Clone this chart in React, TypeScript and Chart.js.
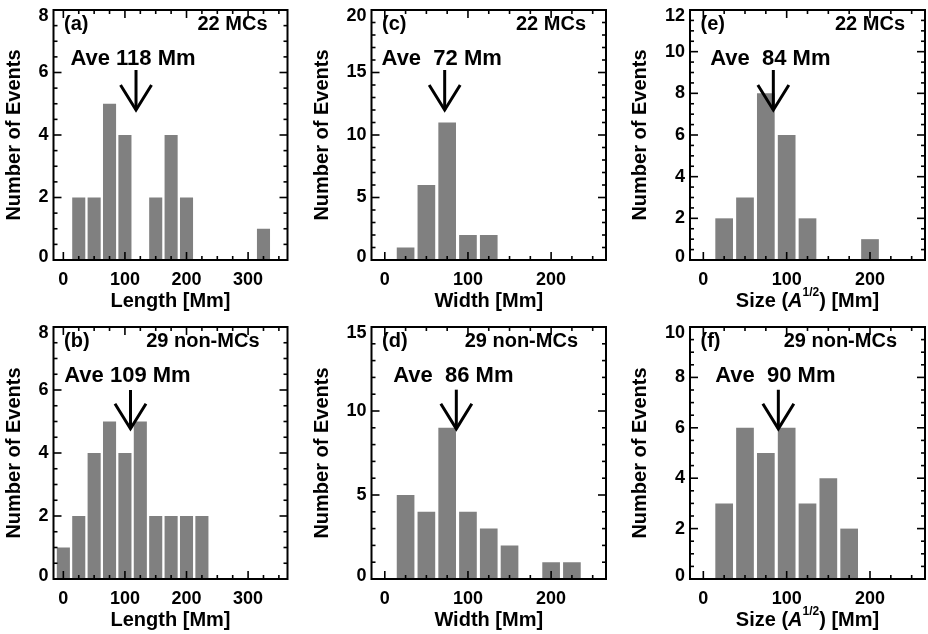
import React, { useEffect, useRef } from 'react';
import { Chart, registerables } from 'chart.js';

Chart.register(...registerables);

const FONT = "'Liberation Sans', Arial, Helvetica, sans-serif";

// ---- data ----
const lengthBins = [0, 25, 50, 75, 100, 125, 150, 175, 200, 225, 250, 275, 300, 325, 350];
const sizeBins = [0, 25, 50, 75, 100, 125, 150, 175, 200, 225, 250];

const lengthMC = [0, 2, 2, 5, 4, 0, 2, 4, 2, 0, 0, 0, 0, 1, 0];
const lengthNonMC = [1, 2, 4, 5, 4, 5, 2, 2, 2, 2, 0, 0, 0, 0, 0];
const widthMC = [0, 1, 6, 11, 2, 2, 0, 0, 0, 0, 0];
const widthNonMC = [0, 5, 4, 9, 4, 3, 2, 0, 1, 1, 0];
const sizeMC = [0, 2, 3, 8, 6, 2, 0, 0, 1, 0, 0];
const sizeNonMC = [0, 3, 6, 5, 6, 3, 4, 2, 0, 0, 0];

// panel order: (a) (b) (c) (d) (e) (f)
const panelLetters = ['(a)', '(b)', '(c)', '(d)', '(e)', '(f)'];
const groupLabels = ['22 MCs', '29 non-MCs', '22 MCs', '29 non-MCs', '22 MCs', '29 non-MCs'];
const aveValues = [118, 109, 72, 86, 84, 90];
const aveLabels = ['Ave 118 Mm', 'Ave 109 Mm', 'Ave  72 Mm', 'Ave  86 Mm', 'Ave  84 Mm', 'Ave  90 Mm'];
const arrowTopY = [6.08, 6.0, 15.2, 11.27, 9.12, 7.51];
const arrowTipY = [4.8, 4.77, 12, 8.94, 7.2, 5.96];
const yMaxes = [8, 8, 20, 15, 12, 10];
const yMajorSteps = [2, 2, 5, 5, 2, 2];
const yMinorSteps = [0.5, 0.5, 1, 1, 0.5, 0.5];
const xMin = -16;
const xMaxes = [364, 364, 266, 266, 266, 266];
const xMajorStep = 100;
const xMinorStep = 25;
const xTitles = ['Length [Mm]', 'Length [Mm]', 'Width [Mm]', 'Width [Mm]', 'SIZE', 'SIZE'];
const yTitle = 'Number of Events';

const panelBins = [lengthBins, lengthBins, sizeBins, sizeBins, sizeBins, sizeBins];
const panelCounts = [lengthMC, lengthNonMC, widthMC, widthNonMC, sizeMC, sizeNonMC];

// ---- layout ----
const COL_CANVAS_LEFT = [0, 306, 624];
const COL_CANVAS_W = [300, 312, 304];
const COL_PLOT_LEFT = [53.5, 371.5, 690];
const COL_PLOT_RIGHT = [287.5, 606, 925];
const COL_TITLE_X = [14.5, 322.5, 640.5];
const ROW_CANVAS_TOP = [0, 316];
const ROW_CANVAS_H = [316, 318];
const ROW_PLOT_TOP = [10, 327];
const ROW_PLOT_BOTTOM = [260, 579];

function ticksBetween(min: number, max: number, step: number) {
  const out: number[] = [];
  const start = Math.ceil(min / step - 1e-9) * step;
  for (let v = start; v <= max + 1e-9; v += step) out.push(Math.round(v * 1000) / 1000);
  return out;
}

const decorPlugin = {
  id: 'decor',
  afterDatasetsDraw(chart: any, _args: any, opts: any) {
    const { ctx, chartArea: ca, scales } = chart;
    const x = scales.x;
    const y = scales.y;
    const i = opts.idx;
    const row = i % 2;
    ctx.save();
    ctx.strokeStyle = '#000';
    ctx.fillStyle = '#000';
    ctx.lineCap = 'butt';

    const line = (x1: number, y1: number, x2: number, y2: number) => {
      ctx.beginPath();
      ctx.moveTo(x1, y1);
      ctx.lineTo(x2, y2);
      ctx.stroke();
    };

    // inward tick marks on all four sides
    ctx.lineWidth = 1.6;
    const MAJ = 8;
    const MIN = 4;
    ticksBetween(x.min, x.max, xMinorStep).forEach((v) => {
      const major = Math.abs(v % xMajorStep) < 1e-6;
      const len = major ? MAJ : MIN;
      const px = x.getPixelForValue(v);
      if (px <= ca.left + 1 || px >= ca.right - 1) return;
      line(px, ca.bottom, px, ca.bottom - len);
      line(px, ca.top, px, ca.top + len);
    });
    ticksBetween(y.min, y.max, yMinorSteps[i]).forEach((v) => {
      const major = Math.abs(v % yMajorSteps[i]) < 1e-6;
      const len = major ? MAJ : MIN;
      const py = y.getPixelForValue(v);
      if (py <= ca.top + 1 || py >= ca.bottom - 1) return;
      line(ca.left, py, ca.left + len, py);
      line(ca.right, py, ca.right - len, py);
    });

    // y tick labels (end labels nudged inside the axis span)
    ctx.font = `bold 18px ${FONT}`;
    ctx.textAlign = 'right';
    ctx.textBaseline = 'middle';
    ticksBetween(0, yMaxes[i], yMajorSteps[i]).forEach((v) => {
      let py = y.getPixelForValue(v);
      if (v === yMaxes[i]) py += 6;
      if (v === 0) py -= 3;
      ctx.fillText(String(v), ca.left - 5, py);
    });

    // frame
    ctx.lineWidth = 2;
    ctx.strokeRect(ca.left, ca.top, ca.right - ca.left, ca.bottom - ca.top);

    // arrow
    const ax = x.getPixelForValue(aveValues[i]);
    const ayTop = y.getPixelForValue(arrowTopY[i]);
    const ayTip = y.getPixelForValue(arrowTipY[i]);
    ctx.lineWidth = 3;
    ctx.lineJoin = 'miter';
    line(ax, ayTop, ax, ayTip);
    ctx.beginPath();
    ctx.moveTo(ax - 15.5, ayTip - 25);
    ctx.lineTo(ax, ayTip);
    ctx.lineTo(ax + 15.5, ayTip - 25);
    ctx.stroke();

    // texts
    ctx.textBaseline = 'middle';
    ctx.font = `bold 22px ${FONT}`;
    ctx.textAlign = 'center';
    ctx.fillText(aveLabels[i], ax - 3, ca.top + 49);

    ctx.font = `bold 20px ${FONT}`;
    ctx.textAlign = 'left';
    ctx.fillText(panelLetters[i], ca.left + 10.5, ca.top + 14);
    ctx.textAlign = 'right';
    ctx.fillText(groupLabels[i], ca.right - (row === 0 ? 20 : 28), ca.top + 14);

    // custom x title with superscript for size panels
    if (xTitles[i] === 'SIZE') {
      const parts = [
        { t: 'Size (', f: `bold 20px ${FONT}`, dy: 0 },
        { t: 'A', f: `italic bold 20px ${FONT}`, dy: 0 },
        { t: '1/2', f: `bold 12px ${FONT}`, dy: -8 },
        { t: ') [Mm]', f: `bold 20px ${FONT}`, dy: 0 },
      ];
      let total = 0;
      const widths = parts.map((p) => {
        ctx.font = p.f;
        const w = ctx.measureText(p.t).width;
        total += w;
        return w;
      });
      let cx = (ca.left + ca.right) / 2 - total / 2;
      ctx.textAlign = 'left';
      const ty = ca.bottom + 41;
      parts.forEach((p, k) => {
        ctx.font = p.f;
        ctx.fillText(p.t, cx, ty + p.dy);
        cx += widths[k];
      });
    }
    ctx.restore();
  },
};

function Panel({ idx }: { idx: number }) {
  const ref = useRef<HTMLCanvasElement | null>(null);
  const col = Math.floor(idx / 2);
  const row = idx % 2;
  const cLeft = COL_CANVAS_LEFT[col];
  const cTop = ROW_CANVAS_TOP[row];
  const cW = COL_CANVAS_W[col];
  const cH = ROW_CANVAS_H[row];

  useEffect(() => {
    const padLeft = COL_TITLE_X[col] - 12 - cLeft;
    const yWidth = COL_PLOT_LEFT[col] - cLeft - padLeft;
    const padRight = cLeft + cW - COL_PLOT_RIGHT[col];
    const padTop = ROW_PLOT_TOP[row] - cTop;
    const xHeight = cTop + cH - ROW_PLOT_BOTTOM[row];
    const xTitlePadBottom = row === 0 ? 3 : 2;
    const isSize = xTitles[idx] === 'SIZE';
    const yMajor = ticksBetween(0, yMaxes[idx], yMajorSteps[idx]);
    const xMajor = ticksBetween(0, xMaxes[idx], xMajorStep);

    const chart = new Chart(ref.current as HTMLCanvasElement, {
      type: 'bar',
      data: {
        datasets: [
          {
            data: panelBins[idx].map((b, k) => ({ x: b, y: panelCounts[idx][k] })),
            backgroundColor: '#808080',
            borderWidth: 0,
            barPercentage: 0.85,
            categoryPercentage: 1,
          },
        ],
      },
      options: {
        responsive: false,
        animation: false,
        devicePixelRatio: 1,
        layout: { padding: { left: padLeft, right: padRight, top: padTop, bottom: 0 } },
        plugins: {
          legend: { display: false },
          tooltip: { enabled: false },
          decor: { idx },
        } as any,
        scales: {
          x: {
            type: 'linear',
            min: xMin,
            max: xMaxes[idx],
            offset: false,
            grid: { display: false, drawTicks: false },
            border: { display: false },
            afterBuildTicks: (s: any) => {
              s.ticks = xMajor.map((v) => ({ value: v }));
            },
            afterFit: (s: any) => {
              s.height = xHeight;
            },
            ticks: {
              padding: 9,
              maxRotation: 0,
              autoSkip: false,
              color: '#000',
              font: { family: FONT, size: 18, weight: 'bold' },
            },
            title: {
              display: !isSize,
              text: xTitles[idx],
              color: '#000',
              font: { family: FONT, size: 20, weight: 'bold', lineHeight: 1.2 },
              padding: { top: 0, bottom: xTitlePadBottom },
            },
          },
          y: {
            type: 'linear',
            min: 0,
            max: yMaxes[idx],
            grid: { display: false, drawTicks: false },
            border: { display: false },
            afterBuildTicks: (s: any) => {
              s.ticks = yMajor.map((v) => ({ value: v }));
            },
            afterFit: (s: any) => {
              s.width = yWidth;
            },
            ticks: {
              display: false,
              padding: 5,
              autoSkip: false,
              color: '#000',
              font: { family: FONT, size: 18, weight: 'bold' },
            },
            title: {
              display: true,
              text: yTitle,
              color: '#000',
              font: { family: FONT, size: 20, weight: 'bold', lineHeight: 1.2 },
              padding: { top: 0, bottom: 0 },
            },
          },
        },
      } as any,
      plugins: [decorPlugin as any],
    });
    return () => chart.destroy();
  }, [idx]);

  return (
    <canvas
      ref={ref}
      width={cW}
      height={cH}
      style={{ position: 'absolute', left: cLeft, top: cTop, width: cW, height: cH }}
    />
  );
}

export default function App() {
  return (
    <div
      style={{
        position: 'fixed',
        left: 0,
        top: 0,
        width: 928,
        height: 634,
        overflow: 'hidden',
        background: '#fff',
      }}
    >
      {[0, 1, 2, 3, 4, 5].map((i) => (
        <Panel key={i} idx={i} />
      ))}
    </div>
  );
}
